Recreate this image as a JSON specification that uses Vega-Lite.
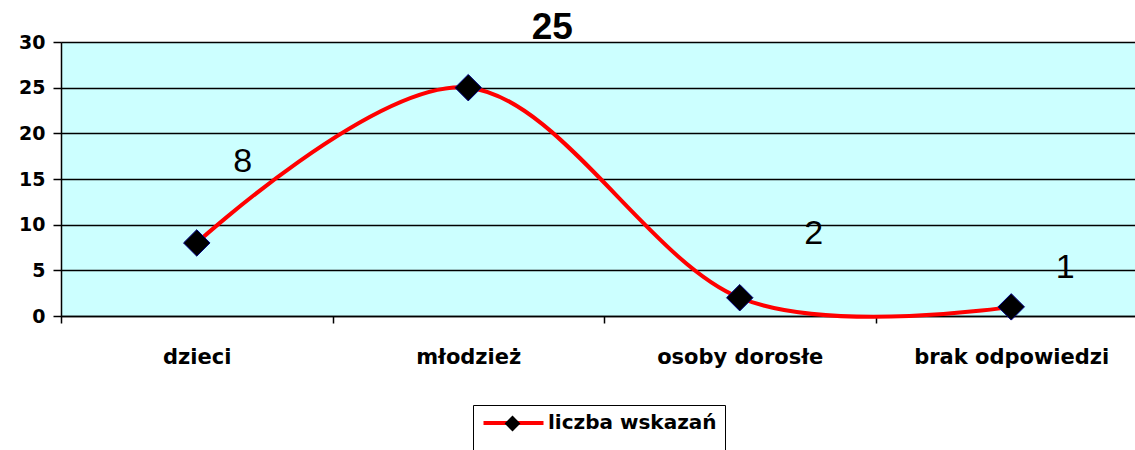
{
  "$schema": "https://vega.github.io/schema/vega-lite/v6.json",
  "width": 1074,
  "height": 274,
  "autosize": {"type": "none"},
  "padding": {"left": 61, "top": 42, "right": 0, "bottom": 134},
  "background": "white",
  "config": {
    "view": {"fill": "#CCFFFF", "stroke": "#8a8a8a", "strokeWidth": 1},
    "font": "DejaVu Sans"
  },
  "data": {
    "values": [
      {"kategoria": "dzieci", "liczba": 8},
      {"kategoria": "młodzież", "liczba": 25},
      {"kategoria": "osoby dorosłe", "liczba": 2},
      {"kategoria": "brak odpowiedzi", "liczba": 1}
    ]
  },
  "encoding": {
    "x": {
      "field": "kategoria",
      "type": "nominal",
      "sort": null,
      "scale": {"type": "band", "range": [0, 1086], "paddingInner": 0, "paddingOuter": 0},
      "axis": {
        "title": null,
        "labelAngle": 0,
        "grid": false,
        "domain": true,
        "domainColor": "black",
        "domainWidth": 1.5,
        "ticks": true,
        "tickBand": "extent",
        "tickSize": 7,
        "tickColor": "black",
        "tickWidth": 1.5,
        "labelFont": "DejaVu Sans",
        "labelFontSize": 21,
        "labelFontWeight": "bold",
        "labelColor": "black",
        "labelPadding": 23,
        "labelLimit": 300
      }
    },
    "y": {
      "field": "liczba",
      "type": "quantitative",
      "scale": {"domain": [0, 30], "nice": false},
      "axis": {
        "title": null,
        "values": [0, 5, 10, 15, 20, 25, 30],
        "grid": true,
        "gridColor": "black",
        "gridWidth": 1.5,
        "gridOpacity": 1,
        "domain": true,
        "domainColor": "black",
        "domainWidth": 1.5,
        "ticks": true,
        "tickSize": 8,
        "tickColor": "black",
        "tickWidth": 1.5,
        "labelFont": "DejaVu Sans",
        "labelFontSize": 19,
        "labelFontWeight": "bold",
        "labelColor": "black",
        "labelPadding": 8
      }
    }
  },
  "layer": [
    {
      "mark": {"type": "line", "strokeWidth": 4, "interpolate": "cardinal", "tension": 0},
      "encoding": {
        "stroke": {
          "datum": "liczba wskazań",
          "type": "nominal",
          "scale": {"range": ["#ff0000"]},
          "legend": {
            "orient": "none",
            "legendX": 412,
            "legendY": 363,
            "zindex": 0,
            "title": " ",
            "titleOrient": "bottom",
            "titleFontSize": 20,
            "titlePadding": 10,
            "symbolType": "M-1,0L7,0",
            "symbolSize": 225,
            "symbolStrokeWidth": 4,
            "symbolStrokeColor": "#ff0000",
            "symbolFillColor": "transparent",
            "labelFont": "DejaVu Sans",
            "labelFontSize": 20,
            "labelFontWeight": "bold",
            "labelColor": "black",
            "labelOffset": 47,
            "labelLimit": 400,
            "strokeColor": "black",
            "padding": 8
          }
        }
      }
    },
    {
      "mark": {"type": "point", "filled": true, "size": 700, "fill": "black", "stroke": "#000080", "strokeWidth": 1, "opacity": 1},
      "encoding": {
        "shape": {
          "datum": "x",
          "type": "nominal",
          "scale": {"range": ["diamond"]},
          "legend": {
            "orient": "none",
            "legendX": 443,
            "legendY": 373,
            "zindex": 1,
            "title": null,
            "symbolSize": 250,
            "symbolFillColor": "black",
            "symbolStrokeColor": "#000080",
            "symbolStrokeWidth": 1,
            "labelExpr": "''",
            "labelFontSize": 1,
            "labelOffset": 0,
            "padding": 0
          }
        }
      }
    },
    {
      "transform": [{"filter": "datum.kategoria === 'dzieci'"}],
      "mark": {"type": "text", "font": "Liberation Sans", "fontSize": 34, "color": "black", "dx": 46, "dy": -81, "baseline": "middle"},
      "encoding": {"text": {"field": "liczba", "type": "quantitative"}}
    },
    {
      "transform": [{"filter": "datum.kategoria === 'młodzież'"}],
      "mark": {"type": "text", "font": "Liberation Sans", "fontSize": 37, "fontWeight": "bold", "color": "black", "dx": 84, "dy": -60, "baseline": "middle"},
      "encoding": {"text": {"field": "liczba", "type": "quantitative"}}
    },
    {
      "transform": [{"filter": "datum.kategoria === 'osoby dorosłe'"}],
      "mark": {"type": "text", "font": "Liberation Sans", "fontSize": 34, "color": "black", "dx": 74, "dy": -64, "baseline": "middle"},
      "encoding": {"text": {"field": "liczba", "type": "quantitative"}}
    },
    {
      "transform": [{"filter": "datum.kategoria === 'brak odpowiedzi'"}],
      "mark": {"type": "text", "font": "Liberation Sans", "fontSize": 34, "color": "black", "dx": 54, "dy": -39, "baseline": "middle"},
      "encoding": {"text": {"field": "liczba", "type": "quantitative"}}
    }
  ]
}
